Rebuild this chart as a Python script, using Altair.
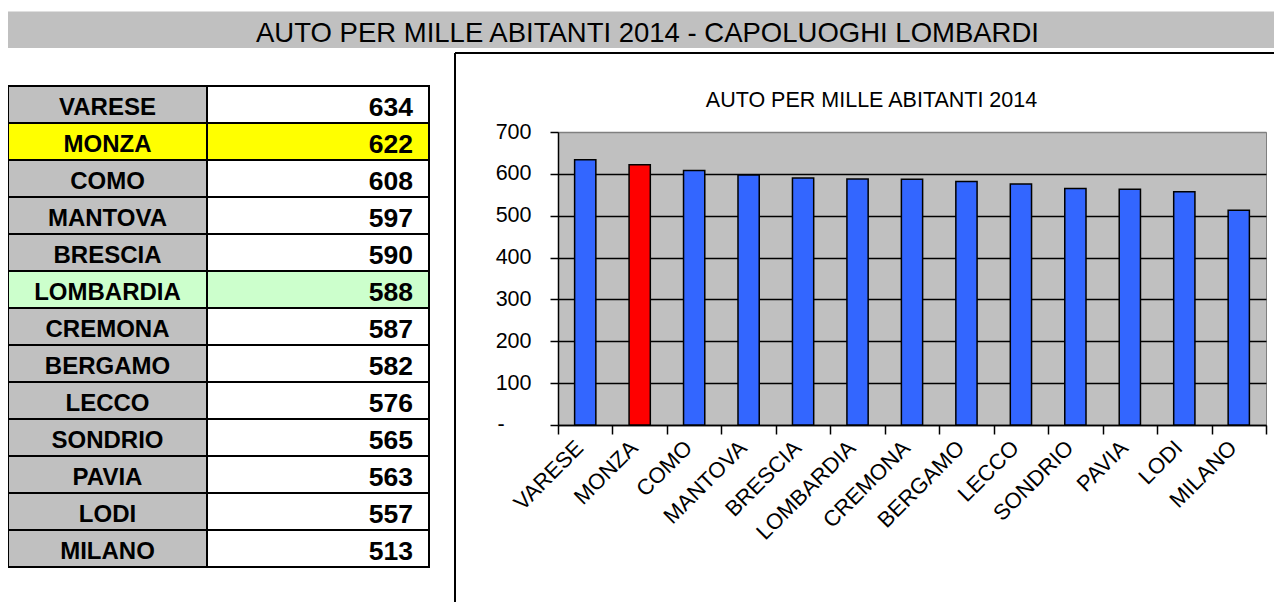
import altair as alt
import pandas as pd

# ---- data ----
cities = ["VARESE", "MONZA", "COMO", "MANTOVA", "BRESCIA", "LOMBARDIA", "CREMONA",
          "BERGAMO", "LECCO", "SONDRIO", "PAVIA", "LODI", "MILANO"]
values = [634, 622, 608, 597, 590, 588, 587, 582, 576, 565, 563, 557, 513]
y_ticks = [0, 100, 200, 300, 400, 500, 600, 700]
zero_label = "-"

main_title = "AUTO PER MILLE ABITANTI 2014 - CAPOLUOGHI LOMBARDI"
chart_title = "AUTO PER MILLE ABITANTI 2014"
highlight_city = "MONZA"
region_row = "LOMBARDIA"

df = pd.DataFrame({"city": cities, "value": values})
one = alt.Data(values=[{}])

FONT = "Liberation Sans, Arial, sans-serif"

# plot-area origin on page: (558, 132); helpers convert page px -> chart coords
def px(x):
    return x - 558

def py(y):
    return y - 132

# ---- title band ----
band = alt.Chart(one).mark_rect(fill="#c0c0c0").encode(
    x=alt.value(px(8)), x2=alt.value(px(1290)), y=alt.value(py(11.5)), y2=alt.value(py(48)))
band_text = alt.Chart(one).mark_text(font=FONT, fontSize=27.5, align="center",
                                     baseline="alphabetic", color="black").encode(
    x=alt.value(px(647.5)), y=alt.value(py(42)), text=alt.value(main_title))

# ---- chart frame lines ----
frame_v = alt.Chart(one).mark_rule(color="black", strokeWidth=2).encode(
    x=alt.value(px(455)), y=alt.value(py(53)), y2=alt.value(py(620)))
frame_h = alt.Chart(one).mark_rule(color="black", strokeWidth=2).encode(
    x=alt.value(px(455)), x2=alt.value(px(1290)), y=alt.value(py(53)))

# ---- table ----
ytab = alt.Y("city:N", sort=cities, axis=None,
             scale=alt.Scale(domain=cities, range=[py(86), py(567)],
                             paddingInner=0, paddingOuter=0))

name_fill = (alt.when(alt.datum.city == highlight_city).then(alt.value("#ffff00"))
             .when(alt.datum.city == region_row).then(alt.value("#ccffcc"))
             .otherwise(alt.value("#c0c0c0")))
val_fill = (alt.when(alt.datum.city == highlight_city).then(alt.value("#ffff00"))
            .when(alt.datum.city == region_row).then(alt.value("#ccffcc"))
            .otherwise(alt.value("#ffffff")))

base = alt.Chart(df)
cells_name = base.mark_rect(stroke="black", strokeWidth=2).encode(
    y=ytab, x=alt.value(px(8)), x2=alt.value(px(207)), fill=name_fill)
cells_val = base.mark_rect(stroke="black", strokeWidth=2).encode(
    y=ytab, x=alt.value(px(207)), x2=alt.value(px(429)), fill=val_fill)
name_text = base.mark_text(font=FONT, fontSize=24, fontWeight="bold", align="center",
                           baseline="middle", dy=3, color="black").encode(
    y=ytab, x=alt.value(px(107.5)), text="city:N")
val_text = base.mark_text(font=FONT, fontSize=26.5, fontWeight="bold", align="right",
                          baseline="middle", dy=3, color="black").encode(
    y=ytab, x=alt.value(px(413)), text=alt.Text("value:Q", format="d"))

# ---- bar chart ----
ctitle = alt.Chart(one).mark_text(font=FONT, fontSize=21.5, align="center",
                                  baseline="alphabetic", color="black").encode(
    x=alt.value(px(871.5)), y=alt.value(py(107)), text=alt.value(chart_title))

# the "-" label of the zero tick (Excel accounting style, sits left of the others)
zero_text = alt.Chart(one).mark_text(font=FONT, fontSize=21.5, align="center",
                                     baseline="middle", color="black").encode(
    x=alt.value(px(501)), y=alt.value(py(425)), text=alt.value(zero_label))

bar_color = (alt.when(alt.datum.city == highlight_city).then(alt.value("#ff0000"))
             .otherwise(alt.value("#3366ff")))

bars = base.mark_bar(width={"band": 0.39}, stroke="black", strokeWidth=1.5).encode(
    x=alt.X("city:N", sort=cities, title=None,
            scale=alt.Scale(paddingInner=0, paddingOuter=0),
            axis=alt.Axis(orient="bottom", tickBand="extent", domainColor="black",
                          domainWidth=1.5, tickColor="black", tickWidth=1.5, tickSize=9,
                          labelAngle=-45, labelAlign="right", labelBaseline="middle",
                          labelFont=FONT, labelFontSize=22, labelColor="black",
                          labelPadding=10, labelOffset=-6, labelOverlap=False,
                          labelBound=False, grid=False)),
    y=alt.Y("value:Q", title=None,
            scale=alt.Scale(domain=[0, 700], nice=False),
            axis=alt.Axis(orient="left", values=y_ticks, domainColor="black",
                          domainWidth=1.5, tickColor="black", tickWidth=1.5, tickSize=8,
                          labelFont=FONT, labelFontSize=21.5, labelColor="black",
                          labelPadding=19,
                          labelExpr="datum.value == 0 ? '' : datum.label",
                          grid=True, gridWidth=1.5,
                          gridColor={"condition": {"test": "datum.value === 700", "value": "#808080"},
                                     "value": "black"})),
    fill=bar_color,
)

chart = (alt.layer(band, band_text, frame_v, frame_h, cells_name, cells_val,
                   name_text, val_text, ctitle, zero_text, bars)
         .resolve_scale(y="independent")
         .properties(width=708, height=293,
                     padding={"left": 550, "top": 124, "right": 8, "bottom": 177},
                     autosize=alt.AutoSizeParams(type="none"))
         .configure_view(fill="#c0c0c0", stroke="#808080", strokeWidth=1))

chart.save("out.html", embed_options={"renderer": "svg", "actions": False})
